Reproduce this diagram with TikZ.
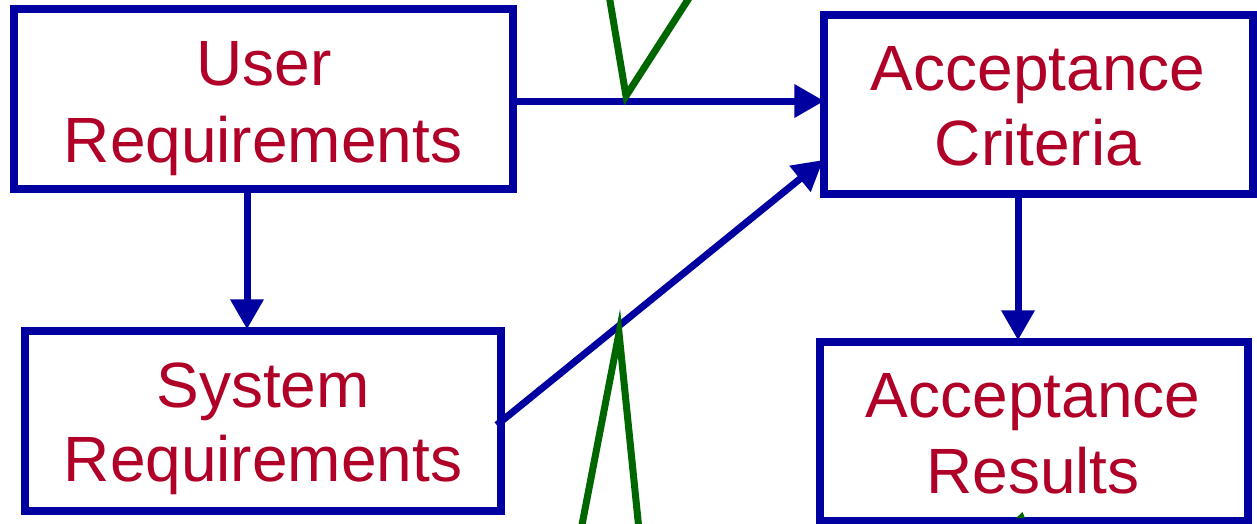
\documentclass[tikz,border=0pt]{standalone}
\usepackage{fontspec}
\setmainfont{Liberation Sans}
\usetikzlibrary{arrows.meta}
\definecolor{boxblue}{RGB}{0,0,160}
\definecolor{txtred}{RGB}{176,0,40}
\definecolor{chkgreen}{RGB}{0,102,0}
\tikzset{
  box/.style={draw=boxblue, line width=7.5pt, fill=white, inner sep=0pt},
  lbl/.style={anchor=base, text=txtred, inner sep=0pt, font=\fontsize{64}{76}\selectfont},
  conn/.style={draw=boxblue, line width=7pt, -{Triangle[length=30pt,width=32pt]}},
  chk/.style={draw=chkgreen, line width=7pt, miter limit=20}
}
\begin{document}
\begin{tikzpicture}[x=1pt,y=-1pt]
\useasboundingbox (0,0) rectangle (1257,523);
% boxes
\node[box, minimum width=499pt, minimum height=180pt] (user) at (263.5,99) {};
\node[box, minimum width=476pt, minimum height=180pt] (sys) at (263,421) {};
\node[box, minimum width=429pt, minimum height=179pt] (crit) at (1038.5,104.5) {};
\node[box, minimum width=428pt, minimum height=179pt] (res) at (1034,431.5) {};
% labels
\node[lbl] (t1) at (264,85) {User};
\node[lbl] (t2) at (263,162) {Requirements};
\node[lbl] (t3) at (1038,90) {Acceptance};
\node[lbl] (t4) at (1038,165) {Criteria};
\node[lbl] (t5) at (263,407) {System};
\node[lbl] (t6) at (263,481) {Requirements};
\node[lbl] (t7) at (1033,417) {Acceptance};
\node[lbl] (t8) at (1033,493) {Results};
% connectors
\draw[conn] ([yshift=-2pt]user.east) -- ([xshift=4pt,yshift=3.5pt]crit.west);
\draw[conn] ([xshift=-16.5pt]user.south) -- ([xshift=-16.5pt,yshift=-2pt]user.south |- sys.north);
\draw[conn] ([xshift=-8pt,yshift=-4pt]sys.east) -- ([xshift=3pt,yshift=-55.5pt]crit.west);
\draw[conn] ([xshift=-20.5pt]crit.south) -- ([xshift=-20.5pt,yshift=-2pt]crit.south |- res.north);
% green marks
\draw[chk] (609,-5) -- (626,96) -- (691,-5);
\draw[chk] (581,530) -- (619,333) -- (639,530);
\fill[chkgreen] (1016,518) -- (1022.5,512) -- (1025,518) -- cycle;
\end{tikzpicture}
\end{document}
